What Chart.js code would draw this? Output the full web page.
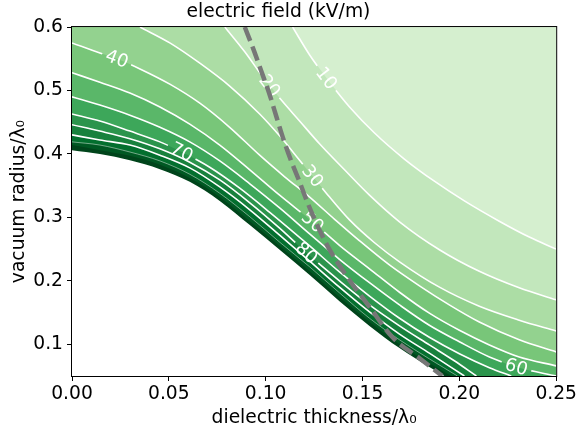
<!DOCTYPE html>
<html>
<head>
<meta charset="utf-8">
<script src="https://cdn.jsdelivr.net/npm/chart.js@4.4.1/dist/chart.umd.min.js"></script>
<style>html,body{margin:0;padding:0;background:#fff}</style>
</head>
<body>
<canvas id="c" width="579" height="435"></canvas>
<script>
const F='DejaVu Sans';
const xTicks=[0,0.05,0.10,0.15,0.20,0.25];
const yTicks=[0.1,0.2,0.3,0.4,0.5,0.6];
const levels=[10,20,30,40,50,60,70,80,90,100,110];

// iso-field lines, points are [dielectric thickness, vacuum radius]
const c10=[[0.1139,0.600],[0.1227,0.556],[0.1330,0.513],[0.1433,0.474],[0.1562,0.433],[0.1716,0.392],[0.1871,0.357],[0.2026,0.326],[0.2206,0.294],[0.2361,0.269],[0.25,0.250]];
const c20=[[0.0789,0.600],[0.0892,0.561],[0.0979,0.524],[0.1072,0.488],[0.1175,0.452],[0.1278,0.416],[0.1407,0.375],[0.1536,0.335],[0.1691,0.293],[0.1897,0.249],[0.2103,0.215],[0.2309,0.189],[0.25,0.170]];
const c30=[[0.0351,0.600],[0.0505,0.575],[0.0660,0.543],[0.0814,0.507],[0.0969,0.463],[0.1082,0.425],[0.1175,0.390],[0.1242,0.365],[0.1330,0.332],[0.1433,0.296],[0.1562,0.260],[0.1691,0.230],[0.1897,0.190],[0.2103,0.160],[0.2309,0.138],[0.25,0.121]];
const c40=[[0,0.575],[0.0144,0.559],[0.0232,0.550],[0.0351,0.534],[0.0505,0.510],[0.0660,0.480],[0.0814,0.442],[0.0969,0.398],[0.1098,0.364],[0.1227,0.332],[0.1356,0.297],[0.1485,0.263],[0.1639,0.225],[0.1794,0.192],[0.1948,0.162],[0.2103,0.135],[0.2309,0.107],[0.25,0.088]];
const c50=[[0,0.528],[0.0144,0.513],[0.0299,0.496],[0.0454,0.474],[0.0608,0.447],[0.0763,0.414],[0.0918,0.375],[0.1072,0.335],[0.1242,0.293],[0.1381,0.256],[0.1536,0.219],[0.1691,0.182],[0.1845,0.149],[0.2,0.122],[0.2155,0.099],[0.2309,0.080],[0.25,0.066]];
const c60=[[0,0.490],[0.0144,0.477],[0.0299,0.461],[0.0454,0.442],[0.0608,0.419],[0.0763,0.389],[0.0918,0.353],[0.1072,0.315],[0.1227,0.274],[0.1381,0.234],[0.1536,0.197],[0.1691,0.162],[0.1845,0.130],[0.2,0.104],[0.2155,0.080],[0.2309,0.063],[0.25,0.050]];
const c70=[[0,0.463],[0.0144,0.452],[0.0299,0.436],[0.0454,0.419],[0.0567,0.403],[0.0711,0.379],[0.0866,0.346],[0.1021,0.308],[0.1227,0.255],[0.1381,0.214],[0.1536,0.176],[0.1691,0.141],[0.1845,0.111],[0.2,0.085],[0.2155,0.063],[0.2268,0.050]];
const c80=[[0,0.446],[0.0144,0.436],[0.0299,0.424],[0.0454,0.408],[0.0608,0.387],[0.0763,0.359],[0.0918,0.323],[0.1072,0.283],[0.1211,0.244],[0.1381,0.200],[0.1536,0.162],[0.1691,0.129],[0.1845,0.099],[0.1974,0.074],[0.2088,0.050]];
const c90=[[0,0.430],[0.0144,0.422],[0.0299,0.414],[0.0454,0.398],[0.0608,0.378],[0.0763,0.348],[0.0918,0.312],[0.1072,0.272],[0.1227,0.231],[0.1381,0.190],[0.1536,0.151],[0.1691,0.116],[0.1845,0.086],[0.2026,0.050]];
const c100=[[0,0.419],[0.0144,0.414],[0.0299,0.403],[0.0454,0.389],[0.0608,0.368],[0.0763,0.338],[0.0918,0.301],[0.1072,0.261],[0.1227,0.222],[0.1381,0.181],[0.1536,0.141],[0.1691,0.107],[0.1845,0.077],[0.1990,0.050]];
const c110=[[0,0.414],[0.0144,0.406],[0.0299,0.397],[0.0454,0.383],[0.0608,0.362],[0.0763,0.332],[0.0918,0.294],[0.1072,0.255],[0.1227,0.215],[0.1381,0.174],[0.1536,0.135],[0.1691,0.100],[0.1845,0.070],[0.1959,0.050]];
// below this the field is not defined (left blank)
const edge=[[0,0.406],[0.0144,0.400],[0.0299,0.390],[0.0454,0.376],[0.0608,0.356],[0.0763,0.326],[0.0918,0.288],[0.1072,0.249],[0.1227,0.209],[0.1381,0.168],[0.1536,0.129],[0.1691,0.094],[0.1845,0.064],[0.1923,0.050]];
// dashed grey curve
const ridge=[[0.0892,0.600],[0.0938,0.564],[0.0979,0.529],[0.1021,0.493],[0.1057,0.457],[0.1093,0.422],[0.1134,0.387],[0.1175,0.356],[0.1211,0.327],[0.1278,0.280],[0.1330,0.249],[0.1433,0.201],[0.1536,0.159],[0.1655,0.111],[0.1794,0.078],[0.1912,0.050]];

const bandColors=['#d5efcf','#c2e7bc','#acdda5','#93d28f','#78c679','#5ab769','#3da75a','#2b944c','#18813d','#036f2e','#005823','#00441b'];
const labelSpots=[{level:10,x:0.1314},{level:20,x:0.1021},{level:30,x:0.1242},{level:40,x:0.0232},{level:50,x:0.1242},{level:60,x:0.2294},{level:70,x:0.0567},{level:80,x:0.1211}];

const contours=[c10,c20,c30,c40,c50,c60,c70,c80,c90,c100,c110];
const yTop=yTicks[yTicks.length-1];
const pts=a=>a.map(([x,y])=>({x,y}));

const datasets=[];
contours.forEach((c,i)=>{
  // lines entering through the top edge get the top-left corner so the band is closed
  const fromTop=c[0][1]>=yTop;
  datasets.push({data:pts(fromTop?[[xTicks[0],yTop],...c]:c),fill:'start',backgroundColor:bandColors[i+1],
    borderWidth:0,pointRadius:0,tension:0,cubicInterpolationMode:fromTop?'default':'monotone',order:200-i});
});
datasets.push({data:pts(edge),fill:'start',backgroundColor:'#ffffff',borderWidth:0,pointRadius:0,cubicInterpolationMode:'monotone',order:150});
contours.forEach((c,i)=>{
  const lv=levels[i];
  if(lv>100)return;
  // the innermost lines sit in the dark bands and read much fainter
  const faint=lv>=100;
  datasets.push({data:pts(c),level:lv,fill:false,borderColor:faint?'rgba(255,255,255,0.45)':'#ffffff',borderWidth:faint?1:1.6,
    pointRadius:0,cubicInterpolationMode:'monotone',order:100-i});
});
datasets.push({data:pts(ridge),ridge:true,fill:false,borderColor:'#777777',borderWidth:4.5,borderDash:[15,6],borderCapStyle:'butt',pointRadius:0,cubicInterpolationMode:'monotone',order:0});

function spotOn(chart,meta,s){
  const px=chart.scales.x.getPixelForValue(s.x),line=meta.dataset;
  const a=line.interpolate({x:px-3},'x'),b=line.interpolate({x:px+3},'x'),m=line.interpolate({x:px},'x');
  return {text:String(s.level),x:px,y:m.y,ang:Math.atan2(b.y-a.y,b.x-a.x)};
}

const bandBg={
  id:'bandBg',
  beforeDatasetsDraw(chart){
    const {ctx,chartArea:a}=chart;
    ctx.save();ctx.fillStyle=bandColors[0];ctx.fillRect(a.left,a.top,a.right-a.left,a.bottom-a.top);ctx.restore();
  }
};

const LABEL_FONT=`18px '${F}'`;
const contourLabels={
  id:'contourLabels',
  beforeDraw(chart){chart.$spots=[]},
  beforeDatasetDraw(chart,{index,meta}){
    const ds=chart.data.datasets[index],ctx=chart.ctx;
    if(ds.ridge){
      // labels go under the dashed curve
      chart.$spots.forEach(p=>{
        ctx.save();ctx.translate(p.x,p.y);ctx.rotate(p.ang);
        ctx.font=LABEL_FONT;ctx.fillStyle='#ffffff';ctx.textAlign='center';ctx.textBaseline='middle';
        ctx.fillText(p.text,0,1);ctx.restore();
      });
      return;
    }
    if(ds.level==null)return;
    const spots=labelSpots.filter(s=>s.level===ds.level);
    if(!spots.length)return;
    ctx.save();
    ctx.font=LABEL_FONT;
    ctx.beginPath();ctx.rect(0,0,chart.width,chart.height);
    spots.forEach(s=>{
      const p=spotOn(chart,meta,s);chart.$spots.push(p);
      const hw=ctx.measureText(p.text).width/2+4,hh=8,c=Math.cos(p.ang),sn=Math.sin(p.ang);
      [[-hw,-hh],[hw,-hh],[hw,hh],[-hw,hh]].forEach(([u,v],k)=>{
        const X=p.x+u*c-v*sn,Y=p.y+u*sn+v*c;
        k?ctx.lineTo(X,Y):ctx.moveTo(X,Y);
      });
      ctx.closePath();
    });
    ctx.clip('evenodd');
    meta.$clipped=true;
  },
  afterDatasetDraw(chart,{meta}){
    if(meta.$clipped){chart.ctx.restore();meta.$clipped=false}
  }
};

const frame={
  id:'frame',
  afterDraw(chart){
    const {ctx,chartArea:a}=chart;
    ctx.save();ctx.strokeStyle='#000';ctx.lineWidth=1;
    ctx.strokeRect(a.left-0.5,a.top-0.5,a.right-a.left+1,a.bottom-a.top+1);
    ctx.restore();
  }
};

Chart.defaults.font.family=F;
Chart.defaults.color='#000';

new Chart(document.getElementById('c'),{
  type:'line',
  data:{datasets},
  plugins:[bandBg,contourLabels,frame],
  options:{
    responsive:false,animation:false,events:[],
    layout:{padding:{left:0,right:22,top:0,bottom:0}},
    plugins:{
      legend:{display:false},tooltip:{enabled:false},
      title:{display:true,text:'electric field (kV/m)',color:'#000',font:{size:18.7,weight:'normal'},padding:{top:1,bottom:3.6}}
    },
    scales:{
      x:{type:'linear',min:xTicks[0],max:xTicks[xTicks.length-1],
        afterBuildTicks:s=>{s.ticks=xTicks.map(v=>({value:v}))},
        afterFit:s=>{s.height=59},
        ticks:{callback:v=>v.toFixed(2),font:{size:18.7},padding:2,maxRotation:0,autoSkip:false},
        grid:{drawOnChartArea:false,drawTicks:true,tickLength:5,color:'#000',lineWidth:1},
        border:{display:false},
        title:{display:true,text:'dielectric thickness/λ₀',font:{size:18.7},padding:{top:0,bottom:6}}},
      y:{type:'linear',min:0.05,max:yTop,
        afterBuildTicks:s=>{s.ticks=yTicks.map(v=>({value:v}))},
        afterFit:s=>{s.width=72},
        ticks:{callback:v=>v.toFixed(1),font:{size:18.7},padding:4,autoSkip:false},
        grid:{drawOnChartArea:false,drawTicks:true,tickLength:5,color:'#000',lineWidth:1},
        border:{display:false},
        title:{display:true,text:'vacuum radius/λ₀',font:{size:18.7},padding:{top:8,bottom:0}}}
    }
  }
});
</script>
</body>
</html>
